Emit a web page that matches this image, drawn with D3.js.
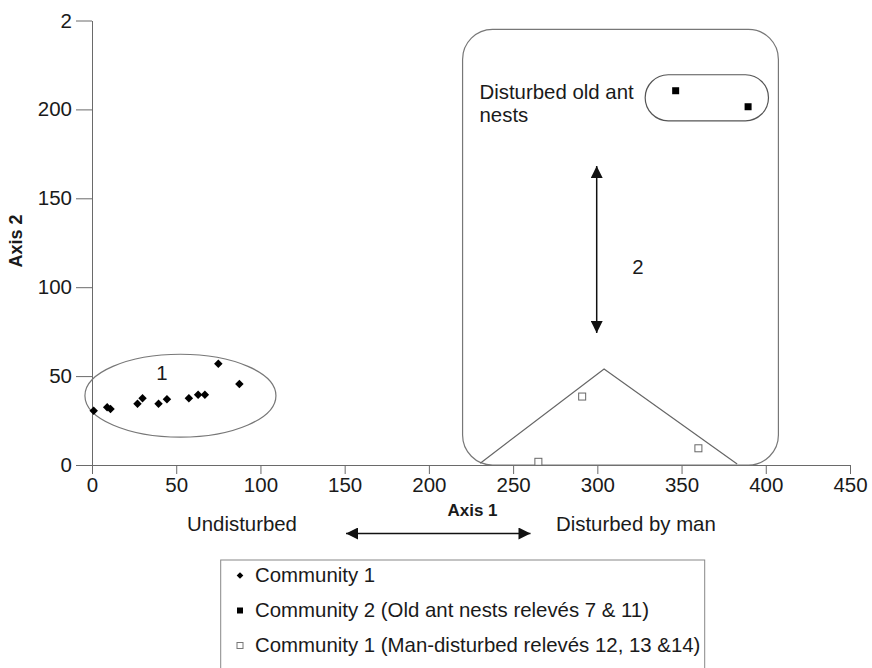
<!DOCTYPE html>
<html>
<head>
<meta charset="utf-8">
<script src="https://cdn.jsdelivr.net/npm/d3@7"></script>
<style>
  html, body { margin: 0; padding: 0; background: #fff; }
  svg { display: block; }
  text { font-family: "Liberation Sans", Arial, sans-serif; fill: #1a1a1a; }
</style>
</head>
<body>
<svg id="chart" width="872" height="668"></svg>
<script>
// ---------- data ----------
const comm1X = [1, 9, 11, 27, 30, 39.5, 44.5, 57.5, 63, 67, 75, 87.5];
const comm1Y = [30.5, 32.5, 31.5, 34.5, 37.5, 34.5, 37, 37.5, 39.5, 39.5, 57, 45.5];
const comm2X = [346.5, 389.5];
const comm2Y = [210.5, 201.5];
const manX = [265, 291, 360];
const manY = [1.8, 38.5, 9.4];
const triangleX = [230.5, 304, 383];
const triangleY = [1, 54, 0.5];
const xTicks = [0, 50, 100, 150, 200, 250, 300, 350, 400, 450];
const yTicks = [0, 50, 100, 150, 200, 250];
const yTickLabels = ["0", "50", "100", "150", "200", "2"];
const legendLabels = [
  "Community 1",
  "Community 2 (Old ant nests relevés 7 & 11)",
  "Community 1 (Man-disturbed relevés 12, 13 &14)"
];
// annotation shapes in data units
const ellipse1 = { cx: 52.5, cy: 39, rx: 56.7, ry: 23.3 };
const bigBox = { x0: 220, x1: 407.5, y0: 0, y1: 245 };
const pill = { x0: 328.4, x1: 401.6, y0: 193.6, y1: 219.5 };

// ---------- layout ----------
const svg = d3.select("#chart");
const x = d3.scaleLinear().domain([0, 450]).range([92, 850]);
const y = d3.scaleLinear().domain([0, 250]).range([465, 20.5]);
const axisColor = "#6a6a6a";
const FONT = "Liberation Sans, Arial, sans-serif";
const FS = 20.4;

const defs = svg.append("defs");
defs.append("marker")
  .attr("id", "ah").attr("viewBox", "0 0 10 10")
  .attr("refX", 10).attr("refY", 5)
  .attr("markerWidth", 13).attr("markerHeight", 12)
  .attr("markerUnits", "userSpaceOnUse")
  .attr("orient", "auto-start-reverse")
  .append("path").attr("d", "M0,0 L10,5 L0,10 Z").attr("fill", "#111");

// ---------- axes ----------
const xAxis = d3.axisBottom(x).tickValues(xTicks).tickSize(9).tickSizeOuter(0).tickPadding(3);
const gx = svg.append("g").attr("transform", `translate(0,${y(0)})`).call(xAxis);
gx.select(".domain").attr("stroke", axisColor);
gx.selectAll(".tick line").attr("stroke", axisColor);
gx.selectAll(".tick text").attr("font-size", 20.5).attr("fill", "#1a1a1a").attr("font-family", FONT);

const yAxis = d3.axisLeft(y).tickValues(yTicks).tickFormat((d, i) => yTickLabels[i])
  .tickSize(16).tickSizeOuter(0).tickPadding(4);
const gy = svg.append("g").attr("transform", `translate(${x(0)},0)`).call(yAxis);
gy.select(".domain").attr("stroke", axisColor);
gy.selectAll(".tick line").attr("stroke", axisColor);
gy.selectAll(".tick text").attr("font-size", 20.5).attr("fill", "#1a1a1a").attr("font-family", FONT);

// axis titles
svg.append("text").attr("x", 472.5).attr("y", 516).attr("text-anchor", "middle")
  .attr("font-size", 17).attr("font-weight", "bold").text("Axis 1");
svg.append("text").attr("transform", "translate(22,241) rotate(-90)").attr("text-anchor", "middle")
  .attr("font-size", 18).attr("font-weight", "bold").text("Axis 2");

// ---------- annotations ----------
const annColor = "#777";
svg.append("ellipse")
  .attr("cx", x(ellipse1.cx)).attr("cy", y(ellipse1.cy))
  .attr("rx", x(ellipse1.rx) - x(0)).attr("ry", y(0) - y(ellipse1.ry))
  .attr("fill", "none").attr("stroke", annColor).attr("stroke-width", 1.2);
svg.append("text").attr("x", x(41.5)).attr("y", y(52) + 7).attr("text-anchor", "middle")
  .attr("font-size", FS).text("1");

svg.append("rect")
  .attr("x", x(bigBox.x0)).attr("y", y(bigBox.y1))
  .attr("width", x(bigBox.x1) - x(bigBox.x0)).attr("height", y(bigBox.y0) - y(bigBox.y1))
  .attr("rx", 30).attr("ry", 30)
  .attr("fill", "none").attr("stroke", annColor).attr("stroke-width", 1.2);

const pillH = y(pill.y0) - y(pill.y1);
svg.append("rect")
  .attr("x", x(pill.x0)).attr("y", y(pill.y1))
  .attr("width", x(pill.x1) - x(pill.x0)).attr("height", pillH)
  .attr("rx", pillH / 2).attr("ry", pillH / 2)
  .attr("fill", "none").attr("stroke", "#555").attr("stroke-width", 1.2);

svg.append("text").attr("x", 479.5).attr("y", 99).attr("font-size", FS).text("Disturbed old ant");
svg.append("text").attr("x", 479.5).attr("y", 122).attr("font-size", FS).text("nests");

svg.append("path")
  .datum(triangleX.map((d, i) => [d, triangleY[i]]))
  .attr("d", d3.line().x(d => x(d[0])).y(d => y(d[1])))
  .attr("fill", "none").attr("stroke", "#666").attr("stroke-width", 1.2);

svg.append("line")
  .attr("x1", 596.7).attr("x2", 596.7).attr("y1", 166).attr("y2", 333)
  .attr("stroke", "#111").attr("stroke-width", 1.5)
  .attr("marker-start", "url(#ah)").attr("marker-end", "url(#ah)");
svg.append("text").attr("x", 638).attr("y", 274).attr("text-anchor", "middle")
  .attr("font-size", FS).text("2");

svg.append("line")
  .attr("x1", 346).attr("x2", 530.5).attr("y1", 533.5).attr("y2", 533.5)
  .attr("stroke", "#111").attr("stroke-width", 1.5)
  .attr("marker-start", "url(#ah)").attr("marker-end", "url(#ah)");
svg.append("text").attr("x", 187).attr("y", 530.5).attr("font-size", FS).text("Undisturbed");
svg.append("text").attr("x", 556).attr("y", 530.5).attr("font-size", FS).text("Disturbed by man");

// ---------- points ----------
svg.append("g").selectAll("path")
  .data(comm1X.map((d, i) => [d, comm1Y[i]]))
  .join("path")
  .attr("d", d3.symbol().type(d3.symbolSquare).size(36))
  .attr("transform", d => `translate(${x(d[0])},${y(d[1])}) rotate(45)`)
  .attr("fill", "#000");

svg.append("g").selectAll("rect")
  .data(comm2X.map((d, i) => [d, comm2Y[i]]))
  .join("rect")
  .attr("x", d => x(d[0]) - 3.5).attr("y", d => y(d[1]) - 3.5)
  .attr("width", 7).attr("height", 7).attr("fill", "#000");

svg.append("g").selectAll("rect")
  .data(manX.map((d, i) => [d, manY[i]]))
  .join("rect")
  .attr("x", d => x(d[0]) - 3.5).attr("y", d => y(d[1]) - 3.5)
  .attr("width", 7).attr("height", 7)
  .attr("fill", "#fff").attr("stroke", "#666").attr("stroke-width", 1);

// ---------- legend ----------
const lg = svg.append("g");
lg.append("rect").attr("x", 220.7).attr("y", 560).attr("width", 484).attr("height", 130)
  .attr("fill", "#fff").attr("stroke", "#888").attr("stroke-width", 1);
const rowsY = [582, 617, 652];
legendLabels.forEach((lab, i) => {
  const cy = rowsY[i] - 6.5;
  if (i === 0) {
    lg.append("path").attr("d", d3.symbol().type(d3.symbolSquare).size(22))
      .attr("transform", `translate(240,${cy}) rotate(45)`).attr("fill", "#000");
  } else if (i === 1) {
    lg.append("rect").attr("x", 237).attr("y", cy - 3).attr("width", 6).attr("height", 6).attr("fill", "#000");
  } else {
    lg.append("rect").attr("x", 237).attr("y", cy - 3).attr("width", 6).attr("height", 6)
      .attr("fill", "#fff").attr("stroke", "#777");
  }
  lg.append("text").attr("x", 255).attr("y", rowsY[i]).attr("font-size", FS).text(lab);
});
</script>
</body>
</html>
